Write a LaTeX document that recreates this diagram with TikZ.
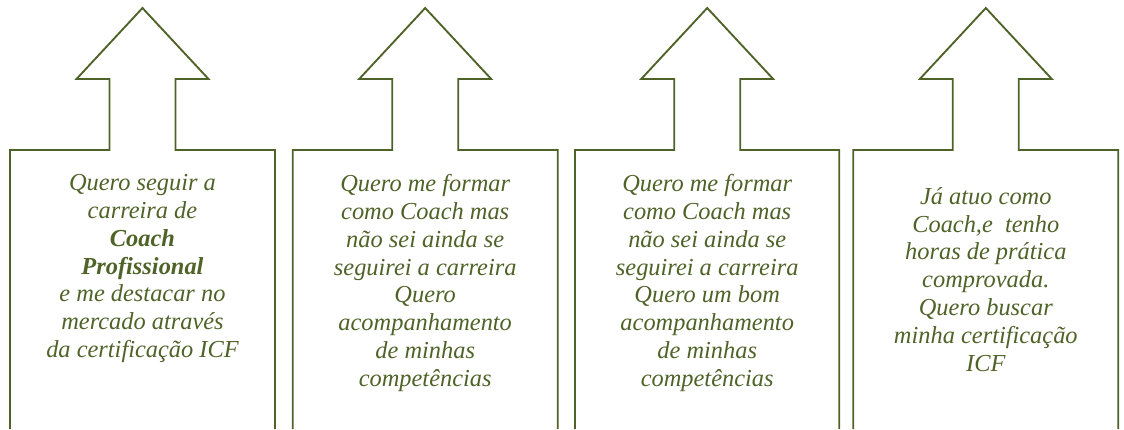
\documentclass[tikz,border=0pt]{standalone}
\usepackage{fontspec}
\setmainfont{Liberation Serif}
\usetikzlibrary{positioning}
\definecolor{OliveDark}{HTML}{4F6228}
\tikzset{
    upbox/.style={draw=OliveDark, line width=1.4pt, line join=miter},
    goaltext/.style={text=OliveDark, align=center, anchor=north, inner sep=0pt, font=\fontsize{18.3}{20.9}\selectfont\itshape}
}

\begin{document}
\begin{tikzpicture}[x=0.75pt, y=-0.75pt]
    \useasboundingbox (0,0) rectangle (1124,429);

    % Up-arrow callouts (left edge / right edge / centre)
    \foreach \l/\r/\c in {10/275/142.5, 292.7/557.7/425.2, 575/839.3/707.2, 853.3/1118.3/985.8} {
        \draw[upbox] (\l,429) -- (\l,150) -- (\c-33,150) -- (\c-33,79) -- (\c-66,79) -- (\c,8)
            -- (\c+66,79) -- (\c+33,79) -- (\c+33,150) -- (\r,150) -- (\r,429);
    }

    % Texts
    \node[goaltext] (goal1) at (142.5,174) {Quero seguir a\\carreira de\\\textbf{Coach}\\\textbf{Profissional}\\e me destacar no\\mercado através\\da certificação ICF};
    \node[goaltext] (goal2) at (425.2,174) {Quero me formar\\como Coach mas\\não sei ainda se\\seguirei a carreira\\Quero\\acompanhamento\\de minhas\\competências};
    \node[goaltext] (goal3) at (707.2,174) {Quero me formar\\como Coach mas\\não sei ainda se\\seguirei a carreira\\Quero um bom\\acompanhamento\\de minhas\\competências};
    \node[goaltext] (goal4) at (985.8,187) {Já atuo como\\Coach,e\ \ tenho\\horas de prática\\comprovada.\\Quero buscar\\minha certificação\\ICF};
\end{tikzpicture}
\end{document}
